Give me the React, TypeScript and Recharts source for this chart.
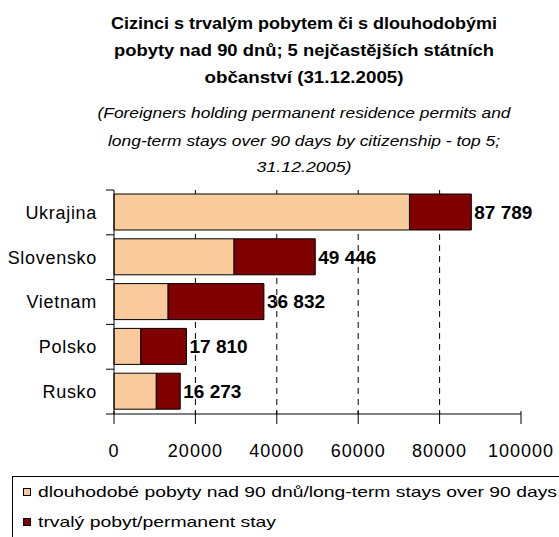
import React from "react";
import {
  BarChart,
  Bar,
  XAxis,
  YAxis,
  CartesianGrid,
  LabelList,
} from "recharts";

// ---- data ----
const countries = ["Ukrajina", "Slovensko", "Vietnam", "Polsko", "Rusko"];
const longTermStays = [72600, 29500, 13300, 6600, 10400];
const permanentStays = [15189, 19946, 23532, 11210, 5873];
const totals = [87789, 49446, 36832, 17810, 16273];
const xTicks = [0, 20000, 40000, 60000, 80000, 100000];
const gridValues = [20000, 40000, 60000, 80000];

const seriesNames = [
  "dlouhodobé pobyty nad 90 dnů/long-term stays over 90 days",
  "trvalý pobyt/permanent stay",
];
const titleLines = [
  "Cizinci s trvalým pobytem či s dlouhodobými",
  "pobyty nad 90 dnů; 5 nejčastějších státních",
  "občanství (31.12.2005)",
];
const subtitleLines = [
  "(Foreigners holding permanent residence permits and",
  "long-term  stays over 90 days by citizenship - top 5;",
  "31.12.2005)",
];

const data = countries.map((c, i) => ({
  country: c,
  longTerm: longTermStays[i],
  permanent: permanentStays[i],
  total: totals[i],
}));

// ---- layout / style ----
const W = 559;
const H = 537;
const MARGIN = { top: 190, right: 38, left: 0, bottom: 93 };
const XAXIS_H = 30;
const YAXIS_W = 114;
const Y_TICK_SIZE = 8;
const Y_TICK_MARGIN = 9;
const X_TICK_SIZE = 9;
const X_TICK_MARGIN = 14;
const PLOT_H = H - MARGIN.top - MARGIN.bottom - XAXIS_H;
const BAND_HALF = PLOT_H / countries.length / 2;
const FONT = "'Liberation Sans', Arial, sans-serif";
const LIGHT = "#F8CA9C";
const DARK = "#800000";
const colors = [LIGHT, DARK];

const fmt = (v: number) => String(v).replace(/\B(?=(\d{3})+(?!\d))/g, " ");

const YTick = (props: any) => {
  const { x, y, payload, index, visibleTicksCount } = props;
  const axisX = x + Y_TICK_SIZE + Y_TICK_MARGIN;
  return (
    <g>
      <text
        x={x}
        y={y}
        dy="0.35em"
        textAnchor="end"
        fontFamily={FONT}
        fontSize={18}
        letterSpacing={0.7}
        fill="#000"
      >
        {payload.value}
      </text>
      <line x1={axisX - Y_TICK_SIZE} x2={axisX} y1={y - BAND_HALF} y2={y - BAND_HALF} stroke="#000" />
      {index === visibleTicksCount - 1 && (
        <line x1={axisX - Y_TICK_SIZE} x2={axisX} y1={y + BAND_HALF} y2={y + BAND_HALF} stroke="#000" />
      )}
    </g>
  );
};

const XTick = (props: any) => {
  const { x, y, payload } = props;
  const axisY = y - X_TICK_SIZE - X_TICK_MARGIN;
  return (
    <g>
      <line x1={x} x2={x} y1={axisY - 3} y2={axisY + 10} stroke="#000" />
      <text
        x={x}
        y={y}
        dy={19.5}
        textAnchor="middle"
        fontFamily={FONT}
        fontSize={18}
        letterSpacing={1}
        fill="#000"
      >
        {payload.value}
      </text>
    </g>
  );
};

const TotalLabel = (props: any) => {
  const { x, y, width, height, index } = props;
  return (
    <text
      x={x + width + 3}
      y={y + height / 2}
      dy="0.36em"
      textAnchor="start"
      fontFamily={FONT}
      fontWeight="bold"
      fontSize={19}
      fill="#000"
    >
      {fmt(totals[index])}
    </text>
  );
};

const titleLengths = [386, 380, 199];
const subtitleLengths = [413, 392, 95];
const titleY = [29, 56, 83];
const subtitleY = [118, 146, 172];
const legendLengths = [519, 238];

export default function App() {
  return (
    <div style={{ position: "absolute", left: 0, top: 0, width: W, height: H, background: "#fff" }}>
      <BarChart
        width={W}
        height={H}
        data={data}
        layout="vertical"
        margin={MARGIN}
        barSize={36}
      >
        <CartesianGrid
          horizontal={false}
          vertical
          verticalValues={gridValues}
          stroke="#000"
          strokeDasharray="6 5"
        />
        <XAxis
          type="number"
          domain={[0, 100000]}
          ticks={xTicks}
          interval={0}
          height={XAXIS_H}
          tickLine={false}
          tickSize={X_TICK_SIZE}
          tickMargin={X_TICK_MARGIN}
          axisLine={{ stroke: "#000" }}
          tick={<XTick />}
        />
        <XAxis
          xAxisId="top"
          orientation="top"
          type="number"
          domain={[0, 100000]}
          height={0}
          tick={false}
          tickLine={false}
          axisLine={{ stroke: "#8c8c8c" }}
        />
        <YAxis
          type="category"
          dataKey="country"
          width={YAXIS_W}
          tickLine={false}
          tickSize={Y_TICK_SIZE}
          tickMargin={Y_TICK_MARGIN}
          axisLine={{ stroke: "#000" }}
          tick={<YTick />}
          interval={0}
        />
        <YAxis
          yAxisId="right"
          orientation="right"
          type="category"
          dataKey="country"
          width={0}
          tick={false}
          tickLine={false}
          axisLine={{ stroke: "#8c8c8c" }}
        />
        <Bar
          dataKey="longTerm"
          name={seriesNames[0]}
          stackId="a"
          fill={LIGHT}
          stroke="#000"
          strokeWidth={1}
          isAnimationActive={false}
        />
        <Bar
          dataKey="permanent"
          name={seriesNames[1]}
          stackId="a"
          fill={DARK}
          stroke="#000"
          strokeWidth={1}
          isAnimationActive={false}
        >
          <LabelList dataKey="total" content={<TotalLabel />} />
        </Bar>
      </BarChart>
      <svg
        width={W}
        height={H}
        style={{ position: "absolute", left: 0, top: 0, pointerEvents: "none" }}
      >
        {titleLines.map((t, i) => (
          <text
            key={"t" + i}
            x={304}
            y={titleY[i]}
            textAnchor="middle"
            fontFamily={FONT}
            fontWeight="bold"
            fontSize={16}
            textLength={titleLengths[i]}
            lengthAdjust="spacingAndGlyphs"
            fill="#000"
          >
            {t}
          </text>
        ))}
        {subtitleLines.map((t, i) => (
          <text
            key={"s" + i}
            x={304}
            y={subtitleY[i]}
            textAnchor="middle"
            fontFamily={FONT}
            fontStyle="italic"
            fontSize={15}
            textLength={subtitleLengths[i]}
            lengthAdjust="spacingAndGlyphs"
            fill="#000"
          >
            {t}
          </text>
        ))}
        <rect x={12.5} y={476.5} width={560} height={80} fill="#fff" stroke="#000" />
        {seriesNames.map((n, i) => (
          <g key={"l" + i}>
            <rect
              x={23.5}
              y={(i === 0 ? 492 : 522) - 3.5}
              width={7}
              height={7}
              fill={colors[i]}
              stroke="#000"
            />
            <text
              x={38}
              y={i === 0 ? 492 : 522}
              dy="0.35em"
              fontFamily={FONT}
              fontSize={15}
              textLength={legendLengths[i]}
              lengthAdjust="spacingAndGlyphs"
              fill="#000"
            >
              {n}
            </text>
          </g>
        ))}
      </svg>
    </div>
  );
}
